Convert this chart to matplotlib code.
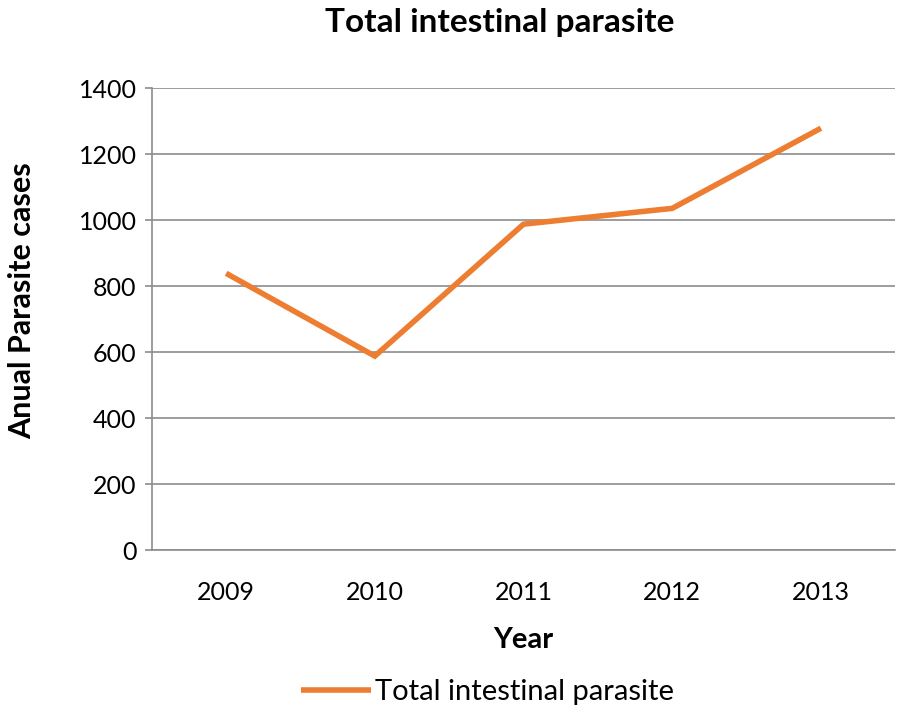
import matplotlib
matplotlib.use("Agg")
import matplotlib.pyplot as plt

years = ['2009', '2010', '2011', '2012', '2013']
cases = [839, 588, 988, 1036, 1279]
y_ticks = [0, 200, 400, 600, 800, 1000, 1200, 1400]

plt.rcParams['font.family'] = ['Lato', 'DejaVu Sans']

fig = plt.figure(figsize=(8.98, 7.12), dpi=100)
ax = fig.add_axes([0.169, 0.2275, 0.828, 0.6485])

x = list(range(len(years)))
ax.plot(x, cases, color='#ED7D31', linewidth=4, label='Total intestinal parasite',
        solid_capstyle='butt', solid_joinstyle='miter')

ax.set_xlim(-0.5, len(years) - 0.5)
ax.set_ylim(0, 1400)
ax.set_yticks(y_ticks)
ax.set_xticks(x)
ax.set_xticklabels(years)
ax.grid(axis='y', color='#8c8c8c', linewidth=1.2)
ax.set_axisbelow(True)

for s in ['top', 'right']:
    ax.spines[s].set_visible(False)
for s in ['left', 'bottom']:
    ax.spines[s].set_color('#8c8c8c')
    ax.spines[s].set_linewidth(1.2)

ax.tick_params(axis='y', length=5, color='#8c8c8c', width=1.2, labelsize=18, pad=6)
ax.tick_params(axis='x', length=0, labelsize=18, pad=22)

ax.set_xlabel('Year', fontsize=21, fontweight='bold', labelpad=17)
fig.text(0.025, 0.578, 'Anual Parasite cases', fontsize=22, fontweight='bold',
         rotation=90, ha='center', va='center')
fig.text(0.557, 0.969, 'Total intestinal parasite', fontsize=24, fontweight='bold',
         ha='center', va='center')

fig.legend(loc='center', bbox_to_anchor=(0.543, 0.028), frameon=False, fontsize=21,
           handlelength=2.4, handletextpad=0.15)

fig.savefig('out.png', dpi=100)
